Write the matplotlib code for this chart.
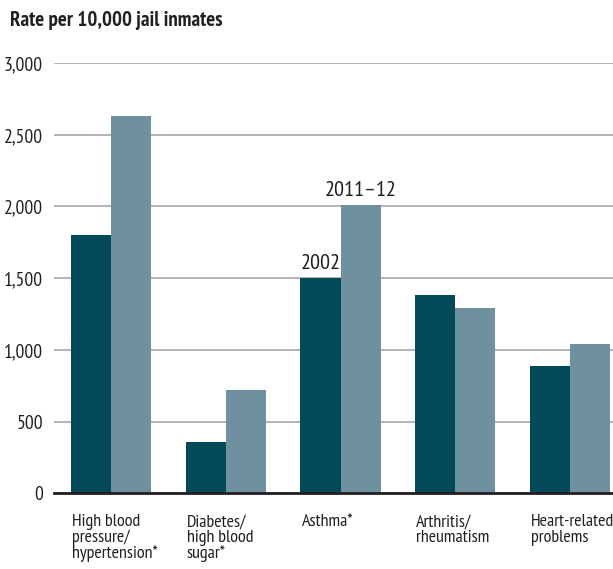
import numpy as np
import matplotlib
matplotlib.use("Agg")
import matplotlib.pyplot as plt
from matplotlib.ticker import FuncFormatter

plt.rcParams['font.family'] = ['PT Sans Narrow', 'Roboto Condensed', 'DejaVu Sans']

# data
categories = ['High blood\npressure/\nhypertension*', 'Diabetes/\nhigh blood\nsugar*',
              'Asthma*', 'Arthritis/\nrheumatism', 'Heart-related\nproblems']
rate_2002 = [1800, 360, 1500, 1380, 890]
rate_2011 = [2630, 720, 2010, 1290, 1040]
series_names = ['2002', '2011\u201312']

dark = '#024a5a'
light = '#6e909f'
txt = '#231f20'

fig = plt.figure(figsize=(6.13, 5.69), dpi=100)
ax = fig.add_axes([54/613, 1-493.3/569, 1-54/613, (493.3-63.1)/569])

x = np.arange(len(categories))
w = 0.35
ax.bar(x - w/2, rate_2002, w, color=dark, zorder=3)
ax.bar(x + w/2, rate_2011, w, color=light, zorder=3)

ax.set_xlim(-0.498, 4.375)
ax.set_ylim(0, 3000)
ax.set_yticks(np.arange(0, 3001, 500))
ax.yaxis.set_major_formatter(FuncFormatter(lambda v, p: f'{int(v):,}'))
ax.grid(axis='y', color='#b3b3b3', linewidth=1.4, zorder=0)
ax.tick_params(axis='y', length=0, pad=8, labelsize=14, colors=txt)

ax.set_xticks(x - w + 0.01)
ax.set_xticklabels(categories, ha='left', va='top', fontsize=13,
                   linespacing=0.95, color=txt)
ax.tick_params(axis='x', length=0, pad=15)

for s in ['top', 'right', 'left']:
    ax.spines[s].set_visible(False)
ax.spines['bottom'].set_color(txt)
ax.spines['bottom'].set_linewidth(2)
ax.spines['bottom'].set_zorder(4)

# series labels over the asthma bars
ax.annotate(series_names[0], (x[2] - w/2, rate_2002[2]), xytext=(0, 4),
            textcoords='offset points', ha='center', va='bottom', fontsize=16,
            color=txt)
ax.annotate(series_names[1], (x[2] + w/2, rate_2011[2]), xytext=(0, 4),
            textcoords='offset points', ha='center', va='bottom', fontsize=16,
            color=txt)

fig.text(10/613, 1-20/569, 'Rate per 10,000 jail inmates', fontsize=15,
         fontweight='bold', ha='left', va='center', color=txt)

fig.savefig('out.png', dpi=100)
